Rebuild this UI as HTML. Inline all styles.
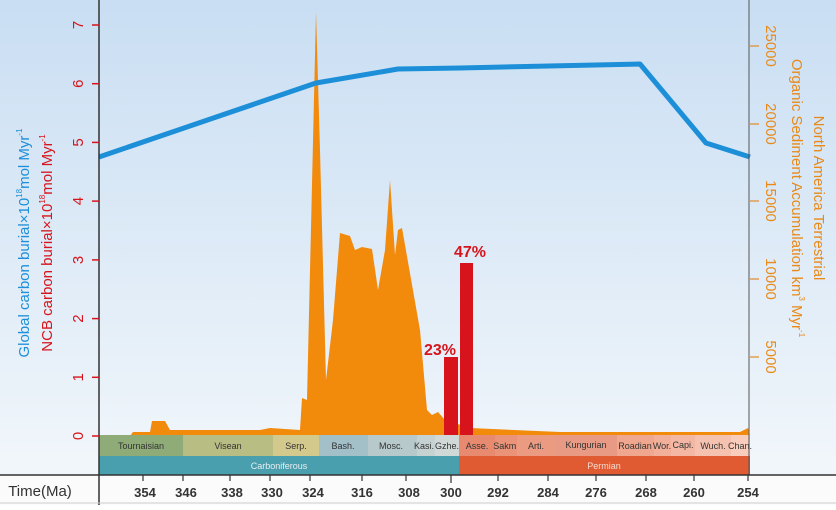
<!DOCTYPE html>
<html><head><meta charset="utf-8"><style>
body{margin:0;width:836px;height:505px;overflow:hidden;background:#fff;font-family:"Liberation Sans",sans-serif}
</style></head><body>
<svg width="836" height="505" viewBox="0 0 836 505" xmlns="http://www.w3.org/2000/svg" font-family="Liberation Sans, sans-serif">
<defs>
<linearGradient id="bg" x1="0" y1="0" x2="0" y2="1">
<stop offset="0" stop-color="#c9def3"/><stop offset="1" stop-color="#f4f8fb"/>
</linearGradient>
</defs>
<rect x="0" y="0" width="836" height="505" fill="url(#bg)"/>
<rect x="0" y="475" width="836" height="30" fill="#fbfbfb"/>
<!-- orange area -->
<polygon fill="#f28a0c" points="130,436 133,432 150,432 152,421 165,421 170,430 260,430 270,428 300,430 302,398 307,400 316,12 320,150 326,380 333,320 340,233 350,236 355,250 362,247 372,249 378,290 385,250 390,180 395,255 398,230 402,228 420,330 427,410 432,415 438,412 445,420 470,428 560,432 620,432 740,432 748,428 750,436"/>
<!-- red bars -->
<rect x="444" y="357" width="14" height="79" fill="#d7141b"/>
<rect x="460" y="263" width="13" height="173" fill="#d7141b"/>
<text x="440" y="355" fill="#d7141b" font-size="16" font-weight="bold" text-anchor="middle">23%</text>
<text x="470" y="257" fill="#d7141b" font-size="16" font-weight="bold" text-anchor="middle">47%</text>
<!-- blue line -->
<polyline fill="none" stroke="#1c8fd8" stroke-width="5" stroke-linejoin="round" points="99,157 316,83 398,69 460,68 640,64 706,143 750,157"/>
<!-- stages -->
<g font-size="9" fill="#333" text-anchor="middle">
<rect x="99" y="435" width="84" height="21" fill="#8fab78"/><text x="141" y="449">Tournaisian</text>
<rect x="183" y="435" width="90" height="21" fill="#b8bd84"/><text x="228" y="449">Visean</text>
<rect x="273" y="435" width="46" height="21" fill="#d3c98c"/><text x="296" y="449">Serp.</text>
<rect x="319" y="435" width="49" height="21" fill="#a3bfc8"/><text x="343" y="449">Bash.</text>
<rect x="368" y="435" width="49" height="21" fill="#b7c9cb"/><text x="391" y="449">Mosc.</text>
<rect x="417" y="435" width="18" height="21" fill="#c6d2d2"/><text x="424" y="449">Kasi.</text>
<rect x="435" y="435" width="24" height="21" fill="#d0d9d7"/><text x="447" y="449">Gzhe.</text>
<rect x="459" y="435" width="36" height="21" fill="#e88a70"/><text x="477" y="449">Asse.</text>
<rect x="495" y="435" width="22" height="21" fill="#ea9379"/><text x="506" y="449">Sakm.</text>
<rect x="517" y="435" width="38" height="21" fill="#eb9b82"/><text x="536" y="449">Arti.</text>
<rect x="555" y="435" width="62" height="21" fill="#e89a84"/><text x="586" y="448">Kungurian</text>
<rect x="617" y="435" width="37" height="21" fill="#f0a78f"/><text x="635" y="449">Roadian</text>
<rect x="654" y="435" width="17" height="21" fill="#f2b09a"/><text x="662" y="449">Wor.</text>
<rect x="671" y="435" width="24" height="21" fill="#f3b7a3"/><text x="683" y="448">Capi.</text>
<rect x="695" y="435" width="36" height="21" fill="#f6c2b0"/><text x="713" y="449">Wuch.</text>
<rect x="731" y="435" width="19" height="21" fill="#f8cdbc"/><text x="740" y="449">Chan.</text>
<rect x="99" y="456" width="360" height="19" fill="#4a9fae"/><text x="279" y="469" fill="#e8eef0">Carboniferous</text>
<rect x="459" y="456" width="291" height="19" fill="#e05a32"/><text x="604" y="469" fill="#f5dcd2">Permian</text>
</g>
<!-- axes -->
<line x1="99" y1="0" x2="99" y2="505" stroke="#333" stroke-width="1.5"/>
<line x1="749" y1="0" x2="749" y2="475" stroke="#555" stroke-width="1"/>
<line x1="0" y1="475" x2="836" y2="475" stroke="#333" stroke-width="1.5"/>
<line x1="0" y1="503" x2="836" y2="503" stroke="#ccc" stroke-width="1"/>
<!-- left ticks -->
<g stroke="#d7141b" stroke-width="1.5">
<line x1="92" y1="436" x2="99" y2="436"/><line x1="92" y1="377.3" x2="99" y2="377.3"/><line x1="92" y1="318.6" x2="99" y2="318.6"/><line x1="92" y1="259.9" x2="99" y2="259.9"/><line x1="92" y1="201.1" x2="99" y2="201.1"/><line x1="92" y1="142.4" x2="99" y2="142.4"/><line x1="92" y1="83.7" x2="99" y2="83.7"/><line x1="92" y1="25" x2="99" y2="25"/>
</g>
<g fill="#d7141b" font-size="15" text-anchor="middle">
<text transform="translate(83,436) rotate(-90)" dy="0">0</text>
<text transform="translate(83,377.3) rotate(-90)">1</text>
<text transform="translate(83,318.6) rotate(-90)">2</text>
<text transform="translate(83,259.9) rotate(-90)">3</text>
<text transform="translate(83,201.1) rotate(-90)">4</text>
<text transform="translate(83,142.4) rotate(-90)">5</text>
<text transform="translate(83,83.7) rotate(-90)">6</text>
<text transform="translate(83,25) rotate(-90)">7</text>
</g>
<text transform="translate(29,243) rotate(-90)" fill="#1c8fd8" font-size="15" text-anchor="middle">Global carbon burial×10<tspan font-size="8" dy="-7">18</tspan><tspan dy="7">mol Myr</tspan><tspan font-size="8" dy="-7">-1</tspan></text>
<text transform="translate(52,243) rotate(-90)" fill="#d7141b" font-size="15" text-anchor="middle">NCB carbon burial×10<tspan font-size="8" dy="-7">18</tspan><tspan dy="7">mol Myr</tspan><tspan font-size="8" dy="-7">-1</tspan></text>
<!-- right ticks -->
<g stroke="#e08a2a" stroke-width="1.2">
<line x1="750" y1="46" x2="759" y2="46"/><line x1="750" y1="124" x2="759" y2="124"/><line x1="750" y1="201" x2="759" y2="201"/><line x1="750" y1="279" x2="759" y2="279"/><line x1="750" y1="357" x2="759" y2="357"/>
</g>
<g fill="#e88a1a" font-size="15" text-anchor="middle">
<text transform="translate(766,46) rotate(90)">25000</text>
<text transform="translate(766,124) rotate(90)">20000</text>
<text transform="translate(766,201) rotate(90)">15000</text>
<text transform="translate(766,279) rotate(90)">10000</text>
<text transform="translate(766,357) rotate(90)">5000</text>
<text transform="translate(814,198) rotate(90)">North America Terrestrial</text>
<text transform="translate(792,198) rotate(90)">Organic Sediment Accumulation km<tspan font-size="8" dy="-7">3</tspan><tspan dy="7"> Myr</tspan><tspan font-size="8" dy="-7">-1</tspan></text>
</g>
<!-- time axis -->
<text x="40" y="496" font-size="15" fill="#333" text-anchor="middle">Time(Ma)</text>
<g stroke="#333" stroke-width="1.2">
<line x1="143" y1="475" x2="143" y2="481"/><line x1="183" y1="475" x2="183" y2="481"/><line x1="230" y1="475" x2="230" y2="481"/><line x1="270" y1="475" x2="270" y2="481"/><line x1="310" y1="475" x2="310" y2="481"/><line x1="362" y1="475" x2="362" y2="481"/><line x1="406" y1="475" x2="406" y2="481"/><line x1="451" y1="475" x2="451" y2="483"/><line x1="498" y1="475" x2="498" y2="481"/><line x1="548" y1="475" x2="548" y2="481"/><line x1="596" y1="475" x2="596" y2="481"/><line x1="646" y1="475" x2="646" y2="481"/><line x1="694" y1="475" x2="694" y2="481"/><line x1="748" y1="475" x2="748" y2="481"/>
</g>
<g font-size="13" font-weight="bold" fill="#333" text-anchor="middle">
<text x="145" y="497">354</text><text x="186" y="497">346</text><text x="232" y="497">338</text><text x="272" y="497">330</text><text x="313" y="497">324</text><text x="362" y="497">316</text><text x="409" y="497">308</text><text x="451" y="497">300</text><text x="498" y="497">292</text><text x="548" y="497">284</text><text x="596" y="497">276</text><text x="646" y="497">268</text><text x="694" y="497">260</text><text x="748" y="497">254</text>
</g>
</svg>
</body></html>
